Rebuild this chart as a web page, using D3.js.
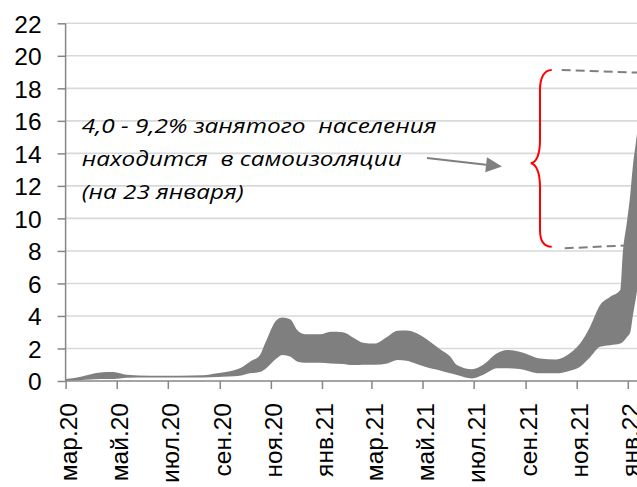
<!DOCTYPE html>
<html>
<head>
<meta charset="utf-8">
<script src="https://d3js.org/d3.v7.min.js"></script>
<style>
    body { margin: 0; background: #fff; }
    svg { display: block; }
    .tick text { font-family: "Liberation Sans", Arial, sans-serif; font-size: 24.5px; fill: #000; }
    .note { font-family: "Open Sans", sans-serif; font-style: italic; font-size: 20px; fill: #000; }
</style>
</head>
<body>
<svg id="chart"></svg>
<script>
    // данные: дата, верхняя и нижняя граница оценки
    var dates = ["2020-03-01", "2020-03-18", "2020-04-11", "2020-04-27", "2020-05-13", "2020-06-10",
        "2020-07-15", "2020-08-12", "2020-08-29", "2020-09-25", "2020-10-07", "2020-10-19",
        "2020-10-25", "2020-11-08", "2020-11-15", "2020-11-24", "2020-12-03", "2020-12-12",
        "2020-12-30", "2021-01-11", "2021-01-26", "2021-02-07", "2021-02-19", "2021-03-05",
        "2021-03-20", "2021-04-01", "2021-04-12", "2021-04-24", "2021-05-10", "2021-05-22",
        "2021-06-03", "2021-06-11", "2021-06-29", "2021-07-12", "2021-07-29", "2021-08-10",
        "2021-08-25", "2021-09-18", "2021-10-08", "2021-10-24", "2021-11-05", "2021-11-17",
        "2021-11-29", "2021-12-11", "2021-12-23", "2021-12-26", "2021-12-31", "2022-01-04",
        "2022-01-07", "2022-01-11", "2022-01-16", "2022-01-23"];
    var upper = [0.12, 0.25, 0.52, 0.55, 0.38, 0.32,
        0.32, 0.35, 0.47, 0.78, 1.19, 1.6,
        2.3, 3.75, 3.9, 3.8, 3.1, 2.87,
        2.87, 3.03, 3.0, 2.68, 2.36, 2.3,
        2.72, 3.09, 3.1, 2.93, 2.42, 1.95,
        1.5, 0.98, 0.72, 0.98, 1.7, 1.9,
        1.8, 1.39, 1.33, 1.7, 2.3, 3.34,
        4.67, 5.18, 5.6, 7.85, 9.8, 11.5,
        13.2, 14.8, 17.0, 18.95];
    var lower = [0.02, 0.05, 0.12, 0.12, 0.2, 0.22,
        0.22, 0.22, 0.25, 0.32, 0.47, 0.55,
        0.72, 1.4, 1.6, 1.5, 1.19, 1.13,
        1.13, 1.08, 1.05, 0.98, 1.0, 1.0,
        1.08, 1.29, 1.25, 1.05, 0.78, 0.65,
        0.47, 0.37, 0.16, 0.37, 0.78, 0.78,
        0.74, 0.47, 0.47, 0.63, 0.88, 1.46,
        2.1, 2.2, 2.3, 2.4, 2.7, 3.0,
        4.0, 5.2, 6.8, 8.4];

    var xTickDates = ["2020-03-01", "2020-05-01", "2020-07-01", "2020-09-01", "2020-11-01", "2021-01-01",
        "2021-03-01", "2021-05-01", "2021-07-01", "2021-09-01", "2021-11-01", "2022-01-01"];
    var xTickLabels = ["мар.20", "май.20", "июл.20", "сен.20", "ноя.20", "янв.21",
        "мар.21", "май.21", "июл.21", "сен.21", "ноя.21", "янв.22"];
    var yTicks = [0, 2, 4, 6, 8, 10, 12, 14, 16, 18, 20, 22];

    var noteLines = ["4,0 - 9,2% занятого  населения", "находится  в самоизоляции", "(на 23 января)"];

    var width = 637, height = 487;
    var parse = d3.utcParse("%Y-%m-%d");

    var svg = d3.select("#chart").attr("width", width).attr("height", height);

    var x = d3.scaleUtc()
        .domain([parse("2020-03-01"), parse("2022-01-01")])
        .range([65.6, 627.8]);
    var y = d3.scaleLinear().domain([0, 22]).range([381, 23.3]);

    var data = dates.map(function (d, i) {
        return { date: parse(d), hi: upper[i], lo: lower[i] };
    });

    // сетка
    svg.append("g")
        .selectAll("line")
        .data(yTicks.filter(function (v) { return v > 0; }))
        .enter()
        .append("line")
        .attr("x1", x.range()[0]).attr("x2", width)
        .attr("y1", function (d) { return y(d); })
        .attr("y2", function (d) { return y(d); })
        .attr("stroke", "#d9d9d9")
        .attr("stroke-width", 1.6);

    // пунктир от скобки к последнему значению
    var last = data[data.length - 1];
    var dashes = [
        [551.7 + 10, 70, x(last.date), y(last.hi)],
        [551.7 + 13, 248.3, x(last.date), y(last.lo)]
    ];
    svg.append("g")
        .selectAll("line")
        .data(dashes)
        .enter()
        .append("line")
        .attr("x1", function (d) { return d[0]; })
        .attr("y1", function (d) { return d[1]; })
        .attr("x2", function (d) { return d[2]; })
        .attr("y2", function (d) { return d[3]; })
        .attr("stroke", "#7f7f7f")
        .attr("stroke-width", 2)
        .attr("stroke-dasharray", "9,5");

    // диапазон
    var area = d3.area()
        .x(function (d) { return x(d.date); })
        .y0(function (d) { return y(d.lo); })
        .y1(function (d) { return y(d.hi); })
        .curve(d3.curveMonotoneX);

    svg.append("path")
        .datum(data)
        .attr("d", area)
        .attr("fill", "#7f7f7f");

    // оси
    var yAxis = svg.append("g")
        .attr("transform", "translate(" + x.range()[0] + ",0)")
        .call(d3.axisLeft(y).tickValues(yTicks).tickSize(8).tickPadding(16).tickSizeOuter(0));
    yAxis.select(".domain").remove();
    yAxis.selectAll(".tick line").attr("stroke", "#868686").attr("stroke-width", 1.5);
    yAxis.selectAll(".tick text").attr("dy", "0.36em");

    var xAxis = svg.append("g")
        .attr("transform", "translate(0," + y(0) + ")")
        .call(d3.axisBottom(x)
            .tickValues(xTickDates.map(parse))
            .tickFormat(function (d, i) { return xTickLabels[i]; })
            .tickSize(8)
            .tickSizeOuter(0));
    xAxis.select(".domain").remove();
    xAxis.selectAll(".tick line").attr("stroke", "#868686").attr("stroke-width", 1.5);
    xAxis.selectAll(".tick text")
        .attr("x", 0).attr("y", 0).attr("dy", 0)
        .attr("text-anchor", "end")
        .attr("transform", "translate(11,22) rotate(-90)");

    svg.append("line")
        .attr("x1", x.range()[0]).attr("x2", x.range()[0])
        .attr("y1", y(22)).attr("y2", y(0))
        .attr("stroke", "#868686").attr("stroke-width", 1.5);
    svg.append("line")
        .attr("x1", x.range()[0]).attr("x2", width)
        .attr("y1", y(0)).attr("y2", y(0))
        .attr("stroke", "#868686").attr("stroke-width", 1.5);

    // подпись
    var noteWidths = [355, 320, 162];
    svg.append("g")
        .selectAll("text")
        .data(noteLines)
        .enter()
        .append("text")
        .attr("class", "note")
        .attr("xml:space", "preserve")
        .attr("x", 81.7)
        .attr("y", function (d, i) { return 133.3 + i * 32.6; })
        .attr("textLength", function (d, i) { return noteWidths[i]; })
        .attr("lengthAdjust", "spacingAndGlyphs")
        .text(function (d) { return d; });

    // стрелка
    var a0 = [427, 158], a1 = [502, 166.5];
    var ang = Math.atan2(a1[1] - a0[1], a1[0] - a0[0]);
    var hl = 16, hw = 7.5;
    var bx = a1[0] - hl * Math.cos(ang), by = a1[1] - hl * Math.sin(ang);
    svg.append("line")
        .attr("x1", a0[0]).attr("y1", a0[1]).attr("x2", bx).attr("y2", by)
        .attr("stroke", "#7f7f7f").attr("stroke-width", 2);
    svg.append("path")
        .attr("d", "M" + a1[0] + "," + a1[1] +
            "L" + (bx + hw * Math.sin(ang)) + "," + (by - hw * Math.cos(ang)) +
            "L" + (bx - hw * Math.sin(ang)) + "," + (by + hw * Math.cos(ang)) + "Z")
        .attr("fill", "#7f7f7f");

    // фигурная скобка
    svg.append("path")
        .attr("d", "M551.7,70 C544,70 540,78 540,90 L540,140 C540,155 536,163 530.7,163.3" +
            " C536,164 540,172 540,187 L540,230 C540,241 544,246.7 551.7,246.7")
        .attr("fill", "none")
        .attr("stroke", "#ff0000")
        .attr("stroke-width", 2);
</script>
</body>
</html>
